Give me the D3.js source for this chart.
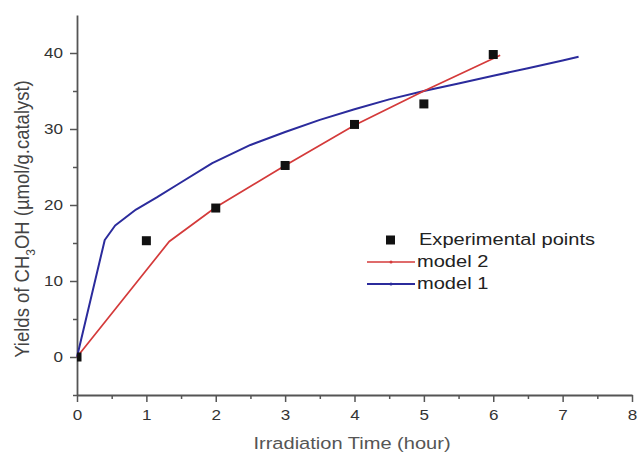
<!DOCTYPE html>
<html>
<head>
<meta charset="utf-8">
<script src="https://cdn.jsdelivr.net/npm/d3@7"></script>
<style>
  body { margin: 0; background: #fff; }
  svg { display: block; font-family: "Liberation Sans", Arial, sans-serif; }
</style>
</head>
<body>
<div id="chart"></div>
<script>
// experimental points
const expTime = [0, 1, 2, 3, 4, 5, 6];
const expYield = [0, 15.3, 19.6, 25.2, 30.6, 33.3, 39.8];

// model 2 (red)
const model2Time = [0, 1.33, 2, 3, 4, 5, 6.1];
const model2Yield = [0, 15.2, 19.7, 25.2, 30.5, 35.0, 39.7];

// model 1 (blue)
const model1Time = [0, 0.4, 0.55, 0.85, 1.15, 1.45, 1.95, 2.5, 3, 3.5, 4, 4.5, 5, 5.5, 6, 6.5, 7, 7.23];
const model1Yield = [0, 15.4, 17.3, 19.4, 21.0, 22.7, 25.5, 27.9, 29.6, 31.2, 32.6, 33.9, 35.0, 36.0, 37.0, 38.0, 39.0, 39.5];

const xTicks = [0, 1, 2, 3, 4, 5, 6, 7, 8];
const yTicks = [0, 10, 20, 30, 40];
const legendLabels = ["Experimental points", "model 2", "model 1"];

let width = 638, height = 452,
    margin = ({ top: 15, right: 6, bottom: 57, left: 77 });

const sx = 1.22; // the picture is stretched sideways

const svg = d3.select("#chart").append("svg")
    .attr("width", width).attr("height", height);

let x = d3.scaleLinear().domain([0, 8]).range([margin.left, width - margin.right]);
let y = d3.scaleLinear().domain([-5, 45]).range([height - margin.bottom, margin.top]);

svg.append("clipPath").attr("id", "plot")
  .append("rect")
    .attr("x", margin.left).attr("y", margin.top)
    .attr("width", width - margin.left - margin.right)
    .attr("height", height - margin.top - margin.bottom);

const axisColor = "#555";

// minor ticks
svg.append("g")
    .attr("transform", `translate(0,${height - margin.bottom})`)
    .call(d3.axisBottom(x).tickValues(d3.range(0.5, 8, 1)).tickSize(4).tickFormat(""))
    .call(g => g.select(".domain").remove())
    .call(g => g.selectAll("line").attr("stroke", axisColor).attr("stroke-width", 1.5));

svg.append("g")
    .attr("transform", `translate(${margin.left},0)`)
    .call(d3.axisLeft(y).tickValues([-5, 5, 15, 25, 35]).tickSize(4).tickFormat(""))
    .call(g => g.select(".domain").remove())
    .call(g => g.selectAll("line").attr("stroke", axisColor).attr("stroke-width", 1.5));

// major axes
svg.append("g")
    .attr("transform", `translate(0,${height - margin.bottom})`)
    .call(d3.axisBottom(x).tickValues(xTicks).tickSize(7).tickSizeOuter(0).tickPadding(8))
    .call(g => g.select(".domain").attr("stroke", axisColor).attr("stroke-width", 1.8))
    .call(g => g.selectAll("line").attr("stroke", axisColor).attr("stroke-width", 1.5))
    .call(g => g.selectAll("text")
        .attr("font-size", 14).attr("fill", "#333")
        .attr("font-family", "Liberation Sans, Arial, sans-serif")
        .attr("transform", `scale(${sx},1)`));

svg.append("g")
    .attr("transform", `translate(${margin.left},0)`)
    .call(d3.axisLeft(y).tickValues(yTicks).tickSize(7).tickSizeOuter(0))
    .call(g => g.select(".domain").attr("stroke", axisColor).attr("stroke-width", 1.8))
    .call(g => g.selectAll("line").attr("stroke", axisColor).attr("stroke-width", 1.5))
    .call(g => g.selectAll("text")
        .attr("font-size", 14).attr("fill", "#333")
        .attr("font-family", "Liberation Sans, Arial, sans-serif")
        .attr("x", -14 / sx)
        .attr("transform", `scale(${sx},1)`));

// axis titles
svg.append("text")
    .attr("transform", `translate(352,449) scale(1.18,1)`)
    .attr("text-anchor", "middle")
    .attr("font-size", 17)
    .attr("fill", "#555")
    .text("Irradiation Time (hour)");

const yTitle = svg.append("text")
    .attr("transform", `translate(29,219) rotate(-90) scale(1,1.12)`)
    .attr("text-anchor", "middle")
    .attr("font-size", 18.5)
    .attr("fill", "#444");
yTitle.append("tspan").text("Yields of CH");
yTitle.append("tspan").attr("font-size", 12).attr("dy", 5).text("3");
yTitle.append("tspan").attr("dy", -5).text("OH (µmol/g.catalyst)");

// model lines
const line = d3.line().x(d => x(d[0])).y(d => y(d[1]));

svg.append("path")
    .datum(model1Time.map((t, i) => [t, model1Yield[i]]))
    .attr("fill", "none")
    .attr("stroke", "#2b2b9c")
    .attr("stroke-width", 2)
    .attr("stroke-linejoin", "round")
    .attr("d", line);

svg.append("path")
    .datum(model2Time.map((t, i) => [t, model2Yield[i]]))
    .attr("fill", "none")
    .attr("stroke", "#d43a3a")
    .attr("stroke-width", 1.7)
    .attr("d", line);

// experimental squares
svg.append("g")
    .attr("clip-path", "url(#plot)")
    .selectAll("rect")
    .data(expTime.map((t, i) => [t, expYield[i]]))
    .join("rect")
    .attr("x", d => x(d[0]) - 4.5)
    .attr("y", d => y(d[1]) - 4.5)
    .attr("width", 9)
    .attr("height", 9)
    .attr("fill", "#111");

// legend
const legend = svg.append("g");
const lx = 367, rows = [240, 262, 284];

legend.append("rect")
    .attr("x", 386).attr("y", rows[0] - 4.5)
    .attr("width", 9).attr("height", 9).attr("fill", "#111");

[["#d43a3a", rows[1]], ["#2b2b9c", rows[2]]].forEach(([c, yy]) => {
  legend.append("line")
    .attr("x1", lx).attr("x2", lx + 48)
    .attr("y1", yy).attr("y2", yy)
    .attr("stroke", c).attr("stroke-width", c === "#2b2b9c" ? 2 : 1.7);
  legend.append("circle")
    .attr("cx", lx + 24).attr("cy", yy).attr("r", 1.5).attr("fill", c);
});

legendLabels.forEach((lab, i) => {
  legend.append("text")
    .attr("transform", `translate(${i === 0 ? 419 : 417},${rows[i] + 5}) scale(1.18,1)`)
    .attr("font-size", 17)
    .attr("fill", "#222")
    .text(lab);
});
</script>
</body>
</html>
